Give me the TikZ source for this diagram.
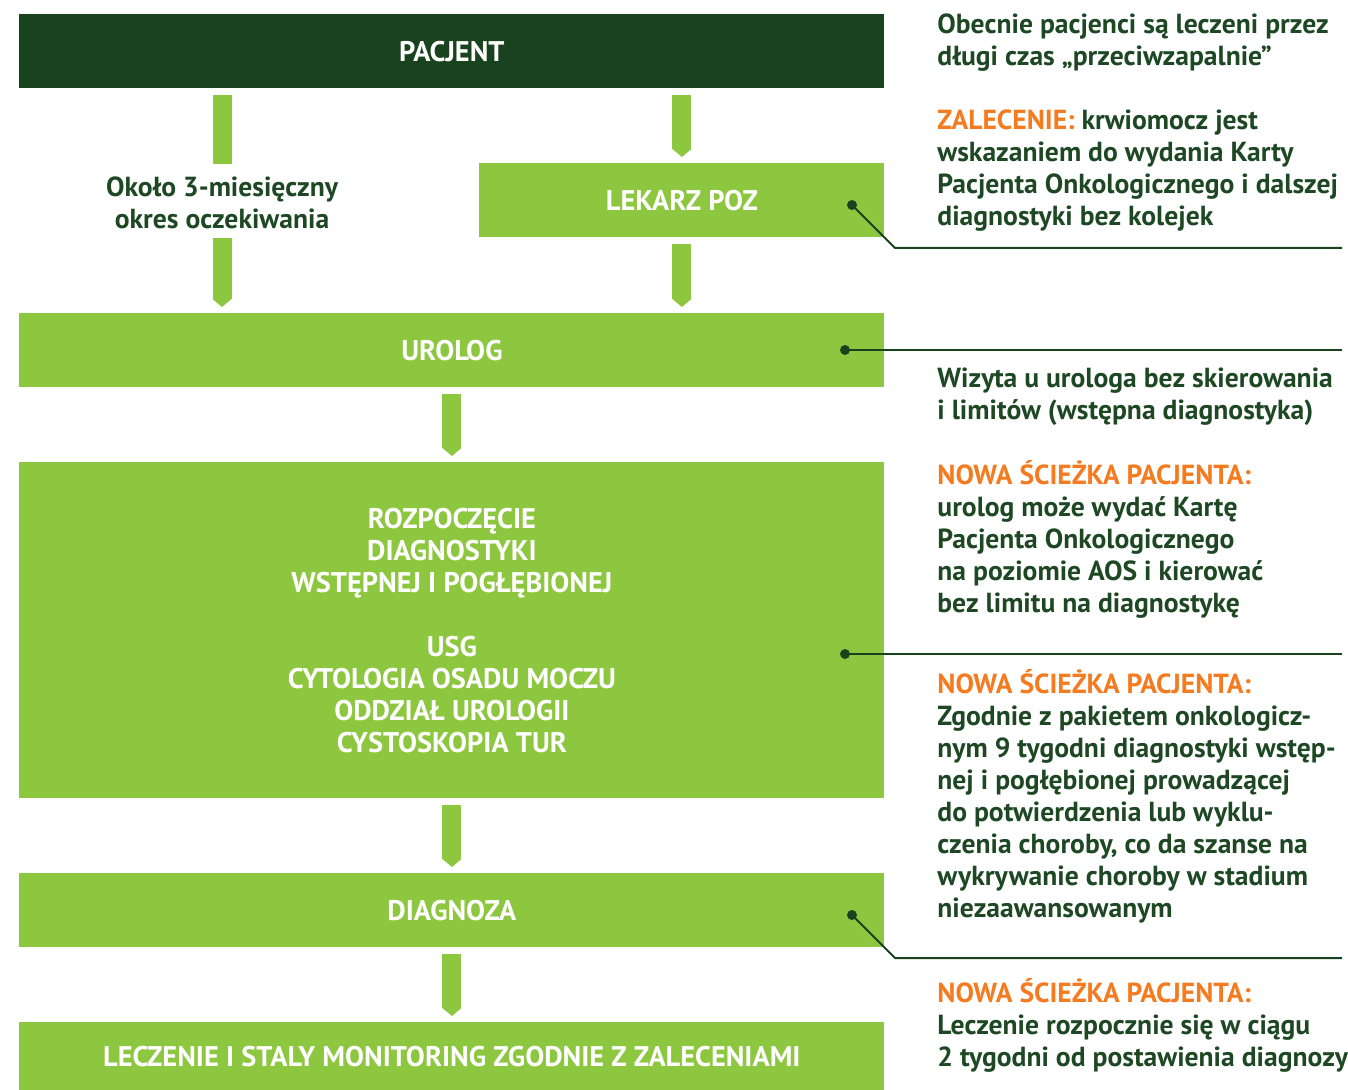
\documentclass[tikz,border=0pt]{standalone}
\usepackage{fontspec}
\setmainfont{PT Sans}
\usetikzlibrary{arrows.meta,positioning}
\definecolor{ciemny}{HTML}{19421E}
\definecolor{jasny}{HTML}{8DC63F}
\definecolor{pomar}{HTML}{F47B20}
\definecolor{tekst}{HTML}{1D4823}
\newcommand{\pismo}{\fontsize{13.8}{16}\selectfont\bfseries}
\newcommand{\pismoblok}{\fontsize{14.2}{16}\selectfont\bfseries}
\newcommand{\naglowek}[1]{{\color{pomar}#1}}
\begin{document}
\begin{tikzpicture}[x=0.5pt, y=-0.5pt, font=\pismo,
    blok/.style={fill=jasny, text=white, font=\pismoblok, inner sep=0pt, anchor=north west, align=center, minimum height=37pt},
    opis/.style={text=tekst, anchor=base west, align=left, inner sep=0pt},
    pasek/.style={draw=jasny, line width=9.5pt, shorten <=3pt, shorten >=3pt},
    grot/.style={pasek, -{Triangle[length=4pt, width=9.5pt, line width=0pt]}},
    odnosnik/.style={draw=ciemny, line width=1pt},
    kropka/.style={fill=ciemny}]
    \useasboundingbox (0,0) rectangle (1348,1090);
    % schemat
    \node[blok, fill=ciemny, minimum width=432.5pt] (pacjent) at (19,14) {PACJENT};
    \node[blok, minimum width=202.5pt] (lekarz) at (479,163) {LEKARZ POZ};
    \node[blok, minimum width=432.5pt] (urolog) at (19,313) {UROLOG};
    \node[blok, minimum width=432.5pt, minimum height=168pt] (diagnostyka) at (19,462)
        {ROZPOCZĘCIE\\DIAGNOSTYKI\\WSTĘPNEJ I POGŁĘBIONEJ\\[16pt]USG\\CYTOLOGIA OSADU MOCZU\\ODDZIAŁ UROLOGII\\CYSTOSKOPIA TUR};
    \node[blok, minimum width=432.5pt] (diagnoza) at (19,873) {DIAGNOZA};
    \node[blok, minimum width=432.5pt, minimum height=34pt] (leczenie) at (19,1022) {LECZENIE I STALY MONITORING ZGODNIE Z ZALECENIAMI};
    \node[text=tekst, align=center, inner sep=0pt, minimum height=37pt] (czekanie) at (222,203)
        {Około 3-miesięczny\\okres oczekiwania};

    \draw[pasek] (pacjent.south -| czekanie.north) -- ++(0,81);
    \draw[grot] (urolog.north -| czekanie.south) ++(0,-81) -- (czekanie.south |- urolog.north);
    \draw[grot] (pacjent.south -| lekarz.north) -- (lekarz.north);
    \draw[grot] (lekarz.south) -- (lekarz.south |- urolog.north);
    \draw[grot] (urolog.south) -- (diagnostyka.north);
    \draw[grot] (diagnostyka.south) -- (diagnoza.north);
    \draw[grot] (diagnoza.south) -- (leczenie.north);

    % odnosniki
    \coordinate (k1) at (852,205);
    \coordinate (k2) at (845,350);
    \coordinate (k3) at (845,654);
    \coordinate (k4) at (852,915);
    \coordinate (p1) at (1342,248);
    \coordinate (p2) at (1342,350);
    \coordinate (p3) at (1342,654);
    \coordinate (p4) at (1342,958);
    \draw[odnosnik] (k1) -- (895,248) -- (p1);
    \draw[odnosnik] (k2) -- (p2);
    \draw[odnosnik] (k3) -- (p3);
    \draw[odnosnik] (k4) -- (895,958) -- (p4);
    \foreach \k in {k1,k2,k3,k4}
        \fill[kropka] (\k) circle (5);

    % opisy (punkt bazowy = ostatnia linia)
    \node[opis] (o1) at (937,66) {Obecnie pacjenci są leczeni przez\\długi czas „przeciwzapalnie”};
    \node[opis] (o2) at (937,226) {\naglowek{ZALECENIE:} krwiomocz jest\\wskazaniem do wydania Karty\\Pacjenta Onkologicznego i dalszej\\diagnostyki bez kolejek};
    \node[opis] (o3) at (937,420) {Wizyta u urologa bez skierowania\\i limitów (wstępna diagnostyka)};
    \node[opis] (o4) at (937,612) {\naglowek{NOWA ŚCIEŻKA PACJENTA:}\\urolog może wydać Kartę\\Pacjenta Onkologicznego\\na poziomie AOS i kierować\\bez limitu na diagnostykę};
    \node[opis] (o5) at (937,917) {\naglowek{NOWA ŚCIEŻKA PACJENTA:}\\Zgodnie z pakietem onkologicz-\\nym 9 tygodni diagnostyki wstęp-\\nej i pogłębionej prowadzącej\\do potwierdzenia lub wyklu-\\czenia choroby, co da szanse na\\wykrywanie choroby w stadium\\niezaawansowanym};
    \node[opis] (o6) at (937,1066) {\naglowek{NOWA ŚCIEŻKA PACJENTA:}\\Leczenie rozpocznie się w ciągu\\2 tygodni od postawienia diagnozy};
\end{tikzpicture}
\end{document}
